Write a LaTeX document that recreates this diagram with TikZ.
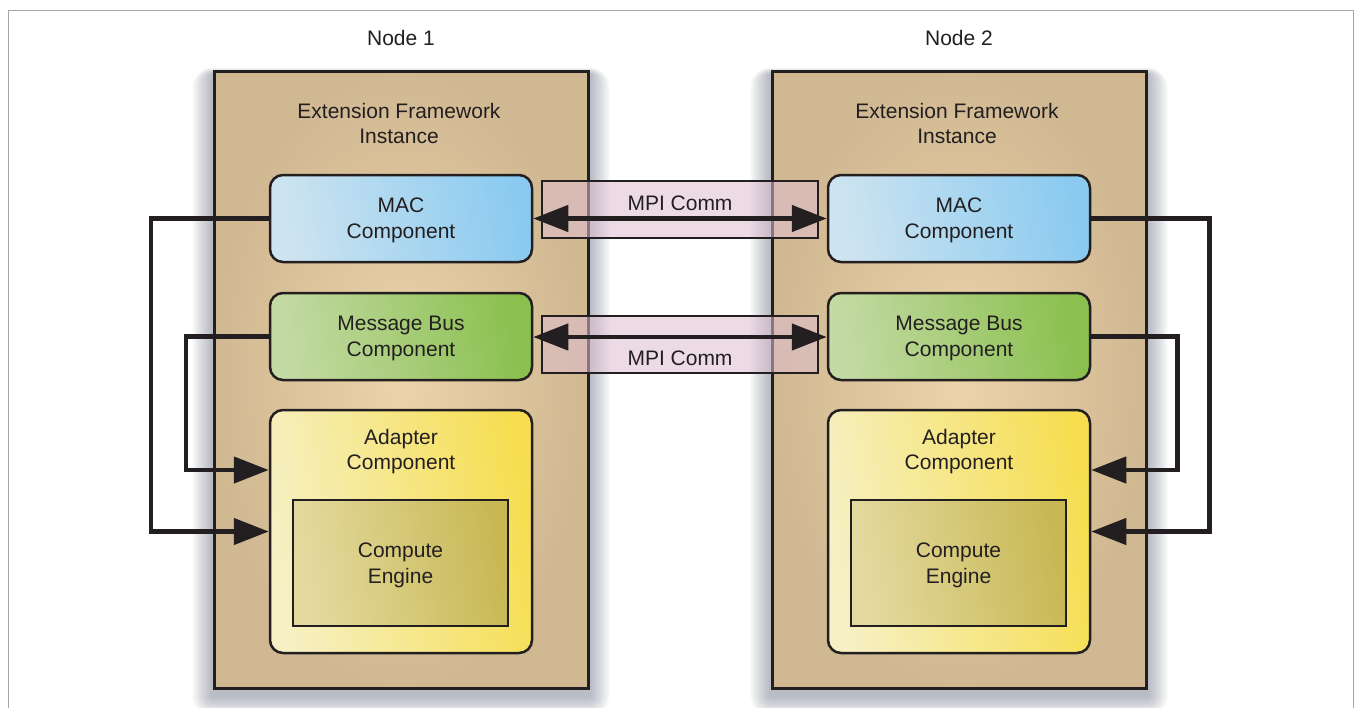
\documentclass[tikz,border=0pt]{standalone}
\usepackage{fontspec}
\setmainfont{Liberation Sans}
\usetikzlibrary{arrows.meta,calc,backgrounds}
\definecolor{txt}{RGB}{35,31,32}
\definecolor{tanout}{RGB}{208,184,146}
\definecolor{tanin}{RGB}{236,211,170}
\definecolor{macA}{RGB}{206,228,240}
\definecolor{macB}{RGB}{138,202,240}
\definecolor{busA}{RGB}{196,218,164}
\definecolor{busB}{RGB}{138,192,78}
\definecolor{adA}{RGB}{246,240,196}
\definecolor{adB}{RGB}{246,222,80}
\definecolor{ceA}{RGB}{228,218,160}
\definecolor{ceB}{RGB}{200,184,84}
\definecolor{mpi}{RGB}{221,190,208}
\definecolor{shadowc}{RGB}{70,80,105}
\tikzset{
  every node/.style={font=\fontsize{21}{25.5}\selectfont, text=txt, align=center},
  framebox/.style={draw=txt, line width=3pt, inner color=tanin, outer color=tanout,
    minimum width=374pt, minimum height=617pt},
  comp/.style={draw=txt, line width=2.5pt, rounded corners=13pt, minimum width=262pt, minimum height=87pt},
  macbox/.style={comp, left color=macA, right color=macB, shading angle=100},
  busbox/.style={comp, left color=busA, right color=busB, shading angle=100},
  adbox/.style={comp, left color=adA, right color=adB, shading angle=100, minimum height=243pt},
  cebox/.style={draw=txt, line width=2.5pt, left color=ceA, right color=ceB, shading angle=100,
    minimum width=215pt, minimum height=126pt},
  band/.style={draw=txt, line width=2pt, fill=mpi, fill opacity=0.55, text opacity=1,
    minimum width=276pt, minimum height=57pt},
  conn/.style={draw=txt, line width=4.5pt, -{Triangle[length=35pt,width=26pt]}},
  biconn/.style={draw=txt, line width=4.5pt, {Triangle[length=35pt,width=26pt]}-{Triangle[length=35pt,width=26pt]}},
}
\begin{document}
\begin{tikzpicture}[x=1pt,y=1pt]
\useasboundingbox (0,0) rectangle (1356,-707);

% node frames
\node[framebox] (fw1) at (401,-379.5) {};
\node[framebox] (fw2) at (959,-379.5) {};

\begin{scope}[on background layer]
\fill[white] (0,0) rectangle (1356,-707);
\foreach \f in {fw1,fw2}{
  \foreach \i in {2,4,...,20}{
    \fill[shadowc, opacity=0.045, rounded corners=\i pt]
      ($(\f.south west)+(-\i,-\i-6)$) rectangle ($(\f.north east)+(\i,\i/3-5)$);
  }
}
\end{scope}
\draw[gray!70, line width=1pt] (8,-740) -- (8,-10) -- (1353,-10) -- (1353,-740);

\node (n1) at (401,-38) {Node 1};
\node (n2) at (959,-38) {Node 2};
\node (t1) at (399,-123.5) {Extension Framework\\Instance};
\node (t2) at (957,-123.5) {Extension Framework\\Instance};

% MPI bands
\node[band] (b1) at (680,-209.5) {};
\node[band] (b2) at (680,-344.5) {};

% components, node 1
\node[macbox] (mac1) at (401,-218.5) {};
\node (mt1) at (401,-220.5) {MAC\\Component};
\node[busbox] (bus1) at (401,-336.5) {};
\node (bt1) at (401,-338.5) {Message Bus\\Component};
\node[adbox] (ad1) at (401,-531.5) {};
\node (at1) at (401,-451.5) {Adapter\\Component};
\node[cebox] (ce1) at (400.5,-563) {};
\node (ct1) at (400.5,-565.5) {Compute\\Engine};

% components, node 2
\node[macbox] (mac2) at (959,-218.5) {};
\node (mt2) at (959,-220.5) {MAC\\Component};
\node[busbox] (bus2) at (959,-336.5) {};
\node (bt2) at (959,-338.5) {Message Bus\\Component};
\node[adbox] (ad2) at (959,-531.5) {};
\node (at2) at (959,-451.5) {Adapter\\Component};
\node[cebox] (ce2) at (958.5,-563) {};
\node (ct2) at (958.5,-565.5) {Compute\\Engine};

% MPI labels
\node (m1) at (680,-203) {MPI Comm};
\node (m2) at (680,-358) {MPI Comm};

% MPI arrows
\draw[biconn] (mac1.east) -- (mac2.west);
\draw[biconn] ([yshift=-0.5pt]bus1.east) -- ([yshift=-0.5pt]bus2.west);

% local connectors
\draw[conn] (mac1.west) -- ++(-118,0) |- (ad1.west);
\draw[conn] (bus1.west) -- ++(-83,0) |- ([yshift=61.5pt]ad1.west);
\draw[conn] (mac2.east) -- ++(118,0) |- (ad2.east);
\draw[conn] (bus2.east) -- ++(86,0) |- ([yshift=61.5pt]ad2.east);
\end{tikzpicture}
\end{document}
